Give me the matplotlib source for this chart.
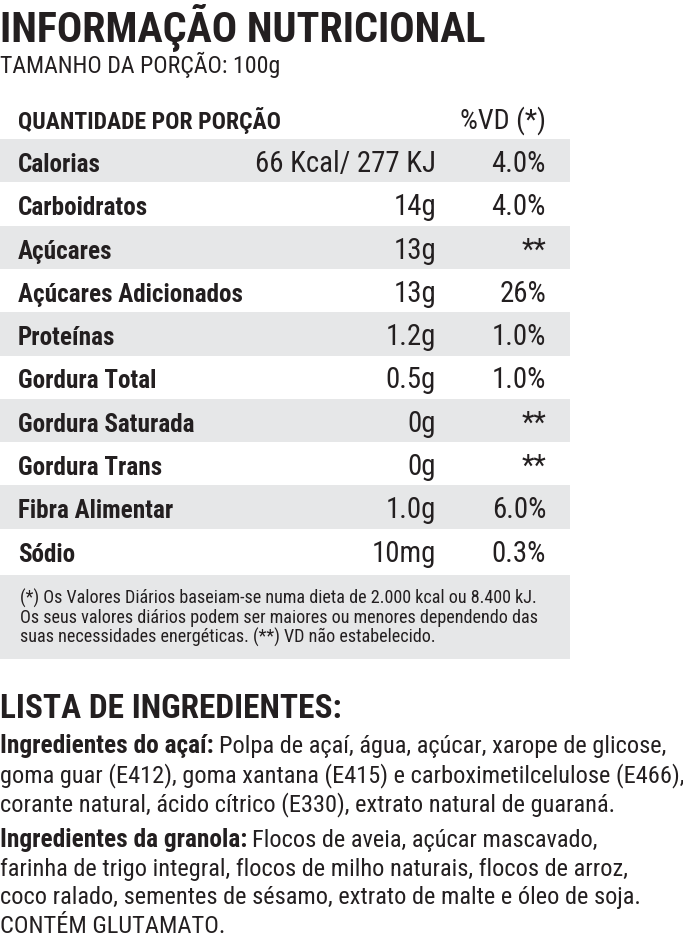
import matplotlib
matplotlib.use("Agg")
import matplotlib.pyplot as plt
from matplotlib import font_manager as fm
from matplotlib.patches import Rectangle

# ---- label content ----
TITLE = "INFORMAÇÃO NUTRICIONAL"
PORTION = "TAMANHO DA PORÇÃO: 100g"
HEADER_LEFT = "QUANTIDADE POR PORÇÃO"
HEADER_RIGHT = "%VD (*)"

NUTRIENTS = ["Calorias", "Carboidratos", "Açúcares", "Açúcares Adicionados",
             "Proteínas", "Gordura Total", "Gordura Saturada", "Gordura Trans",
             "Fibra Alimentar", "Sódio"]
AMOUNTS = ["66 Kcal/ 277 KJ", "14g", "13g", "13g", "1.2g", "0.5g", "0g", "0g",
           "1.0g", "10mg"]
DAILY = ["4.0%", "4.0%", "**", "26%", "1.0%", "1.0%", "**", "**", "6.0%", "0.3%"]

FOOTNOTE = [
    "(*) Os Valores Diários baseiam-se numa dieta de 2.000 kcal ou 8.400 kJ.",
    "Os seus valores diários podem ser maiores ou menores dependendo das",
    "suas necessidades energéticas. (**) VD não estabelecido.",
]

ING_TITLE = "LISTA DE INGREDIENTES:"
ACAI_LABEL = "Ingredientes do açaí:"
ACAI_LINES = [
    "Polpa de açaí, água, açúcar, xarope de glicose,",
    "goma guar (E412), goma xantana (E415) e carboximetilcelulose (E466),",
    "corante natural, ácido cítrico (E330), extrato natural de guaraná.",
]
GRANOLA_LABEL = "Ingredientes da granola:"
GRANOLA_LINES = [
    "Flocos de aveia, açúcar mascavado,",
    "farinha de trigo integral, flocos de milho naturais, flocos de arroz,",
    "coco ralado, sementes de sésamo, extrato de malte e óleo de soja.",
    "CONTÉM GLUTAMATO.",
]


def pick_font():
    fonts = fm.fontManager.ttflist
    names = {f.name for f in fonts}
    for name in ["Roboto Condensed", "Liberation Sans Narrow", "Open Sans Condensed"]:
        if name in names:
            return name, "normal"
    if any(f.name == "DejaVu Sans" and "ondensed" in f.fname for f in fonts):
        return "DejaVu Sans", "condensed"
    return "Liberation Sans", "normal"


FONT, STRETCH = pick_font()
plt.rcParams["font.family"] = [FONT, "DejaVu Sans"]
plt.rcParams["font.stretch"] = STRETCH

W, H = 683, 937
GRAY = "#e6e7e8"
INK = "#231f20"

fig = plt.figure(figsize=(W / 100, H / 100), dpi=100)
ax = fig.add_axes([0, 0, 1, 1])
ax.set_xlim(0, W)
ax.set_ylim(H, 0)
ax.axis("off")
renderer = fig.canvas.get_renderer()


def width_px(t):
    return t.get_window_extent(renderer).width


def fit_size(s, target, weight="normal"):
    # font size at which string s is target pixels wide
    t = ax.text(0, 0, s, fontsize=20, fontweight=weight)
    size = 20 * target / width_px(t)
    t.remove()
    return size


def right_edge(t):
    bb = t.get_window_extent(renderer)
    return ax.transData.inverted().transform((bb.x1, bb.y0))[0]


# header block
ax.text(0, 42, TITLE, fontsize=fit_size(TITLE, 487, "bold"), fontweight="bold",
        color=INK, va="baseline")
ax.text(0, 73, PORTION, fontsize=fit_size(PORTION, 280), color=INK, va="baseline")
ax.text(18, 129, HEADER_LEFT, fontsize=fit_size(HEADER_LEFT, 262, "bold"),
        fontweight="bold", color=INK, va="baseline")
ax.text(546, 129, HEADER_RIGHT, fontsize=fit_size(HEADER_RIGHT, 86), color=INK,
        va="baseline", ha="right")

# table rows
row_top = 140.0
row_h = 43.3
name_size = fit_size("Açúcares Adicionados", 224, "bold")
val_size = fit_size("66 Kcal/ 277 KJ", 180)
for i, (name, amt, vd) in enumerate(zip(NUTRIENTS, AMOUNTS, DAILY)):
    top = row_top + i * row_h
    if i % 2 == 0:
        ax.add_patch(Rectangle((0, top), 570, row_h, color=GRAY, lw=0, zorder=0))
    base = top + 32
    ax.text(18, base, name, fontsize=name_size, fontweight="bold", color=INK,
            va="baseline")
    ax.text(436, base, amt, fontsize=val_size, color=INK, va="baseline", ha="right")
    ax.text(546, base, vd, fontsize=val_size, color=INK, va="baseline", ha="right")

# footnote box
ax.add_patch(Rectangle((0, 576), 570, 84, color=GRAY, lw=0, zorder=0))
foot_size = fit_size(FOOTNOTE[0], 517)
for j, line in enumerate(FOOTNOTE):
    ax.text(20, 604 + j * 19.5, line, fontsize=foot_size, color=INK, va="baseline")

# ingredients
ax.text(0, 718, ING_TITLE, fontsize=fit_size(ING_TITLE, 343, "bold"),
        fontweight="bold", color=INK, va="baseline")
ing_size = fit_size(ACAI_LINES[1], 682)
lab_size = fit_size(ACAI_LABEL, 213, "bold")


def paragraph(label, lines, y0, step):
    lab = ax.text(0, y0, label, fontsize=lab_size, fontweight="bold", color=INK,
                  va="baseline")
    x = right_edge(lab) + 5
    ax.text(x, y0, lines[0], fontsize=ing_size, color=INK, va="baseline")
    for k, line in enumerate(lines[1:], start=1):
        ax.text(0, y0 + k * step, line, fontsize=ing_size, color=INK, va="baseline")


paragraph(ACAI_LABEL, ACAI_LINES, 753, 29)
paragraph(GRANOLA_LABEL, GRANOLA_LINES, 847, 28.7)

fig.savefig("out.png", dpi=100)
